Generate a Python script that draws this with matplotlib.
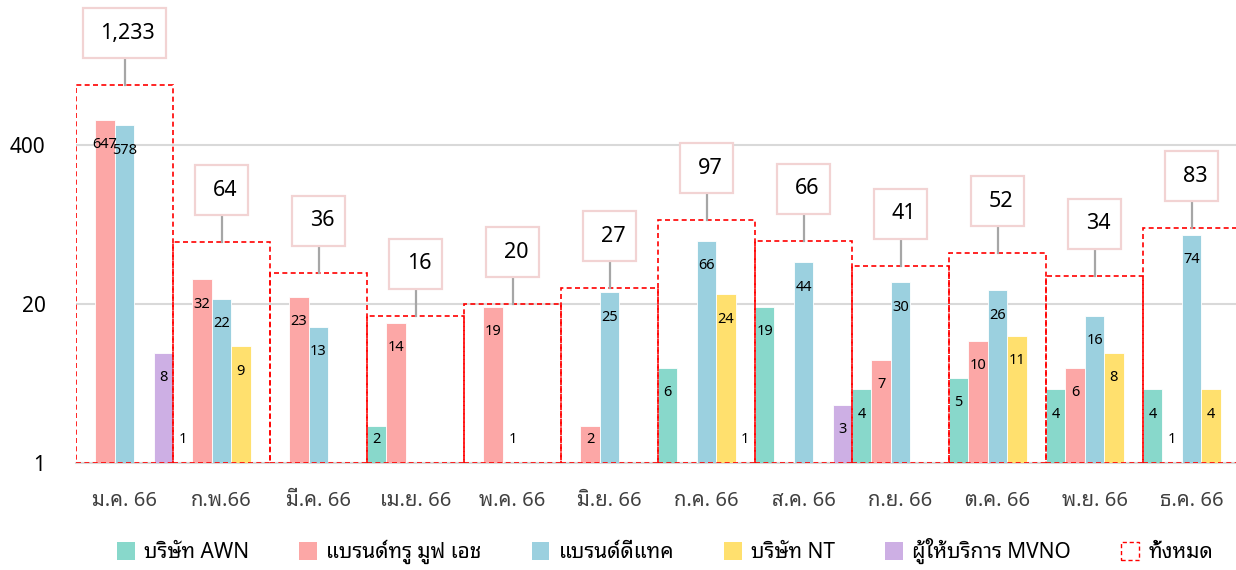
import matplotlib
matplotlib.use("Agg")
import matplotlib.pyplot as plt
from matplotlib.patches import Rectangle, Patch
from matplotlib.transforms import IdentityTransform
import numpy as np

# data (None = no bar)
months = ["ม.ค. 66", "ก.พ.66", "มี.ค. 66", "เม.ย. 66", "พ.ค. 66", "มิ.ย. 66",
          "ก.ค. 66", "ส.ค. 66", "ก.ย. 66", "ต.ค. 66", "พ.ย. 66", "ธ.ค. 66"]
series_names = ["บริษัท AWN", "แบรนด์ทรู มูฟ เอช", "แบรนด์ดีแทค", "บริษัท NT", "ผู้ให้บริการ MVNO"]
awn = [None, 1, None, 2, None, None, 6, 19, 4, 5, 4, 4]
true_move = [647, 32, 23, 14, 19, 2, None, None, 7, 10, 6, 1]
dtac = [578, 22, 13, None, 1, 25, 66, 44, 30, 26, 16, 74]
nt = [None, 9, None, None, None, None, 24, None, None, 11, 8, 4]
mvno = [8, None, None, None, None, None, 1, 3, None, None, None, None]
totals = [1233, 64, 36, 16, 20, 27, 97, 66, 41, 52, 34, 83]
total_name = "ทั้งหมด"
yticks = [1, 20, 400]

colors = ["#88D8CB", "#FCA7A6", "#9BD0DF", "#FFE06E", "#CDAFE4"]
FONT = ["Noto Sans Thai Looped", "DejaVu Sans"]
plt.rcParams["font.family"] = FONT

W, H = 1236, 570
PX = 122.2  # pixels per decade on the log axis
fig = plt.figure(figsize=(W / 100, H / 100), dpi=100)
ax = fig.add_axes([76 / W, 107 / H, 1164 / W, 463 / H])
ax.set_yscale("log")
ax.set_ylim(1, 10 ** (463 / PX))
ax.set_xlim(-0.5, len(months) - 0.5)

x = np.arange(len(months))
bw = 0.2
all_series = [awn, true_move, dtac, nt, mvno]
for k, (vals, c) in enumerate(zip(all_series, colors)):
    pos = x + (k - 2) * bw
    for xi, v in zip(pos, vals):
        if v is None:
            continue
        ax.bar(xi, v - 1, bottom=1, width=bw, color=c, edgecolor="white", linewidth=0.6, zorder=3)
        ly = max(v / 1.6, 1.57)
        ax.text(xi, ly, str(v), ha="center", va="center", fontsize=10.5, color="black", zorder=5)

# totals: dashed outline across the whole category, with a callout box above
total_texts = []
for xi, t in zip(x, totals):
    ax.add_patch(Rectangle((xi - 0.5, 1), 1, t - 1, fill=False, edgecolor="#FF0000",
                           linestyle=(0, (3, 2)), linewidth=1.2, zorder=4))
    box_y = t * 10 ** (27 / PX)
    ax.plot([xi, xi], [t, box_y], color="#A6A6A6", linewidth=1.6, zorder=4, clip_on=False)
    txt = ax.text(xi + 0.035, box_y * 10 ** (25 / PX), f"{t:,}", ha="center", va="center",
                  fontsize=15.5, zorder=7)
    total_texts.append((xi, box_y, txt))

ax.set_yticks(yticks)
ax.set_yticklabels([str(v) for v in yticks])
ax.yaxis.set_minor_locator(matplotlib.ticker.NullLocator())
ax.tick_params(axis="y", length=0, labelsize=15, pad=22)
ax.set_xticks(x)
ax.set_xticklabels(months, fontsize=14.5, fontweight="bold", color="#404040")
ax.tick_params(axis="x", length=0, pad=20)
ax.grid(axis="y", color="#D9D9D9", linewidth=1.5, zorder=0)
for s in ["top", "right", "left"]:
    ax.spines[s].set_visible(False)
ax.spines["bottom"].set_color("#D9D9D9")
ax.spines["bottom"].set_linewidth(1.5)

handles = [Patch(facecolor=c, edgecolor="none") for c in colors]
handles.append(Patch(facecolor="white", edgecolor="#FF0000", linestyle=(0, (3, 2)), linewidth=1.0))
fig.legend(handles, series_names + [total_name], loc="center", bbox_to_anchor=(0.538, 1 - 551 / H),
           ncol=6, frameon=False, fontsize=15, handlelength=0.85, handleheight=0.95,
           handletextpad=0.45, columnspacing=2.4)

# callout boxes sized around the total labels (in pixels)
fig.canvas.draw()
renderer = fig.canvas.get_renderer()
for xi, box_y, txt in total_texts:
    bb = txt.get_window_extent(renderer)
    cx, by = ax.transData.transform((xi, box_y))
    bw_px = bb.width + 28
    ax.add_patch(Rectangle((cx - bw_px / 2, by), bw_px, 50, transform=IdentityTransform(),
                           facecolor="white", edgecolor="#F2D3D3", linewidth=1.6,
                           zorder=6, clip_on=False))

fig.savefig("out.png", dpi=100)
